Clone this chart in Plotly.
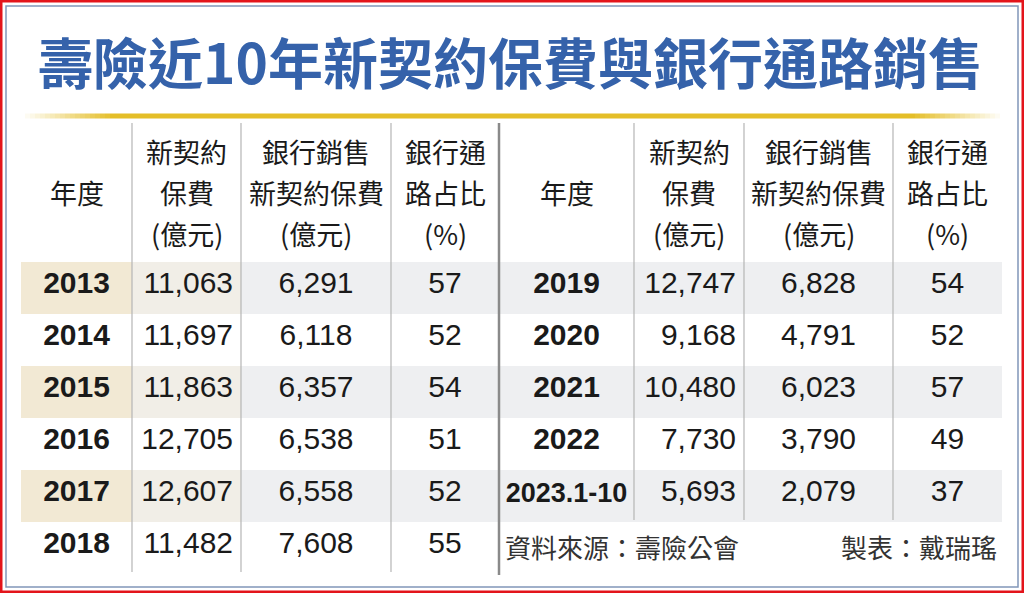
import plotly.graph_objects as go

W, H = 1024, 593

# ---- data ----
title_text = "壽險近10年新契約保費與銀行通路銷售"
header_lines = [["年度"], ["新契約", "保費", "(億元)"], ["銀行銷售", "新契約保費", "(億元)"], ["銀行通", "路占比", "(%)"]]

years_a = ["2013", "2014", "2015", "2016", "2017", "2018"]
premium_a = [11063, 11697, 11863, 12705, 12607, 11482]
bank_a = [6291, 6118, 6357, 6538, 6558, 7608]
share_a = [57, 52, 54, 51, 52, 55]

years_b = ["2019", "2020", "2021", "2022", "2023.1-10"]
premium_b = [12747, 9168, 10480, 7730, 5693]
bank_b = [6828, 4791, 6023, 3790, 2079]
share_b = [54, 52, 57, 49, 37]

source_note = "資料來源：壽險公會"
maker_note = "製表：戴瑞瑤"

# ---- style ----
FONT = "Liberation Sans, Arial, Noto Sans CJK TC"
CJK = "Noto Sans CJK TC, Liberation Sans"
BEIGE = "#F2E9D4"
MIX = "#F1EEE7"
GRAY = "#EEEFF1"
WHITE = "#FFFFFF"
TOP, HEAD_H, ROW_H = 123, 137, 52
TABLE_TOP = TOP + 2
LEFT_COLS = [21, 132, 241, 391, 499]
RIGHT_COLS = [499, 634, 744, 893, 1002]


def px_x(v):
    return v / W


def px_y(v):
    return 1 - v / H


def year_label(y):
    # the long partial-year label is set smaller so it fits its column
    if len(y) > 4:
        return "<span style='font-size:27px'>" + y + "</span><br>"
    return y


def make_table(years, premium, bank, share, edges, left_side):
    n = len(years)
    shaded = [i % 2 == 0 for i in range(n)]
    if left_side:
        fills = [[BEIGE if s else WHITE for s in shaded],
                 [MIX if s else WHITE for s in shaded],
                 [GRAY if s else WHITE for s in shaded],
                 [GRAY if s else WHITE for s in shaded]]
    else:
        fills = [[GRAY if s else WHITE for s in shaded] for _ in range(4)]
    widths = [edges[i + 1] - edges[i] for i in range(4)]
    return go.Table(
        domain=dict(x=[px_x(edges[0]), px_x(edges[-1])], y=[0, px_y(TABLE_TOP)]),
        columnwidth=widths,
        header=dict(
            values=["", "", "", ""],
            height=HEAD_H,
            fill_color=WHITE,
            line_width=0,
        ),
        cells=dict(
            values=[[year_label(y) for y in years],
                    [f"{v:,}" for v in premium],
                    [f"{v:,}" for v in bank],
                    [str(v) for v in share]],
            height=ROW_H,
            align=["center", "right", "center", "center"],
            fill_color=fills,
            line_width=0,
            font=dict(family=FONT, size=30, color="#1a1a1a",
                      weight=["bold", "normal", "normal", "normal"]),
        ),
    )


fig = go.Figure()
fig.add_trace(make_table(years_a, premium_a, bank_a, share_a, LEFT_COLS, True))
fig.add_trace(make_table(years_b, premium_b, bank_b, share_b, RIGHT_COLS, False))

shapes = []
# outer red frame and inner blue-gray frame
shapes.append(dict(type="rect", xref="paper", yref="paper", x0=0, x1=1, y0=0, y1=1,
                   line=dict(color="#E3141B", width=5)))
shapes.append(dict(type="rect", xref="paper", yref="paper", x0=px_x(6), x1=px_x(1018), y0=px_y(587), y1=px_y(6),
                   line=dict(color="#8196B9", width=1.5)))

# gold rule under the title, fading at both ends
gx0, gx1, fade = 25, 1000, 90
steps = 18
for i in range(steps):
    a = (i + 1) / steps
    for sx0, sx1 in [(gx0 + fade * i / steps, gx0 + fade * (i + 1) / steps),
                     (gx1 - fade * (i + 1) / steps, gx1 - fade * i / steps)]:
        shapes.append(dict(type="line", xref="paper", yref="paper", x0=px_x(sx0), x1=px_x(sx1),
                           y0=px_y(116), y1=px_y(116), line=dict(color=f"rgba(228,190,40,{a:.2f})", width=5)))
shapes.append(dict(type="line", xref="paper", yref="paper", x0=px_x(gx0 + fade), x1=px_x(gx1 - fade),
                   y0=px_y(116), y1=px_y(116), line=dict(color="rgb(228,190,40)", width=5)))

# column rules
for x in LEFT_COLS[1:4]:
    shapes.append(dict(type="line", xref="paper", yref="paper", x0=px_x(x), x1=px_x(x), y0=px_y(TOP), y1=px_y(572),
                       line=dict(color="#B5B5B5", width=1.2), layer="above"))
for x in RIGHT_COLS[1:4]:
    shapes.append(dict(type="line", xref="paper", yref="paper", x0=px_x(x), x1=px_x(x), y0=px_y(TOP), y1=px_y(520),
                       line=dict(color="#B5B5B5", width=1.2), layer="above"))
shapes.append(dict(type="line", xref="paper", yref="paper", x0=px_x(499), x1=px_x(499), y0=px_y(TOP), y1=px_y(575),
                   line=dict(color="#8A8A8A", width=2.5), layer="above"))

annotations = [
    dict(text="<b>" + title_text + "</b>", x=px_x(510), y=px_y(60), xref="paper", yref="paper",
         showarrow=False, xanchor="center", yanchor="middle",
         font=dict(family=CJK, size=55, color="#3562AA")),
    dict(text=source_note, x=px_x(503), y=px_y(546), xref="paper", yref="paper",
         showarrow=False, xanchor="left", yanchor="middle",
         font=dict(family=CJK, size=26, color="#333333")),
    dict(text=maker_note, x=px_x(999), y=px_y(546), xref="paper", yref="paper",
         showarrow=False, xanchor="right", yanchor="middle",
         font=dict(family=CJK, size=26, color="#333333")),
]

# column headers, each line placed on its own row of the header band
line_y = [152, 192, 233]
for edges in (LEFT_COLS, RIGHT_COLS):
    for c, lines in enumerate(header_lines):
        cx = (edges[c] + edges[c + 1]) / 2
        ys = [192] if len(lines) == 1 else line_y
        for txt, yy in zip(lines, ys):
            annotations.append(dict(text=txt, x=px_x(cx), y=px_y(yy), xref="paper", yref="paper",
                                    showarrow=False, xanchor="center", yanchor="middle",
                                    font=dict(family=CJK, size=27, color="#1a1a1a")))

fig.update_layout(
    width=W, height=H,
    margin=dict(l=0, r=0, t=0, b=0),
    paper_bgcolor="white",
    plot_bgcolor="white",
    shapes=shapes,
    annotations=annotations,
)

# drop the page's default body margin so the figure fills the window
fig.write_html("out.html", config={"displayModeBar": False},
               post_script="document.body.style.margin='0';")
